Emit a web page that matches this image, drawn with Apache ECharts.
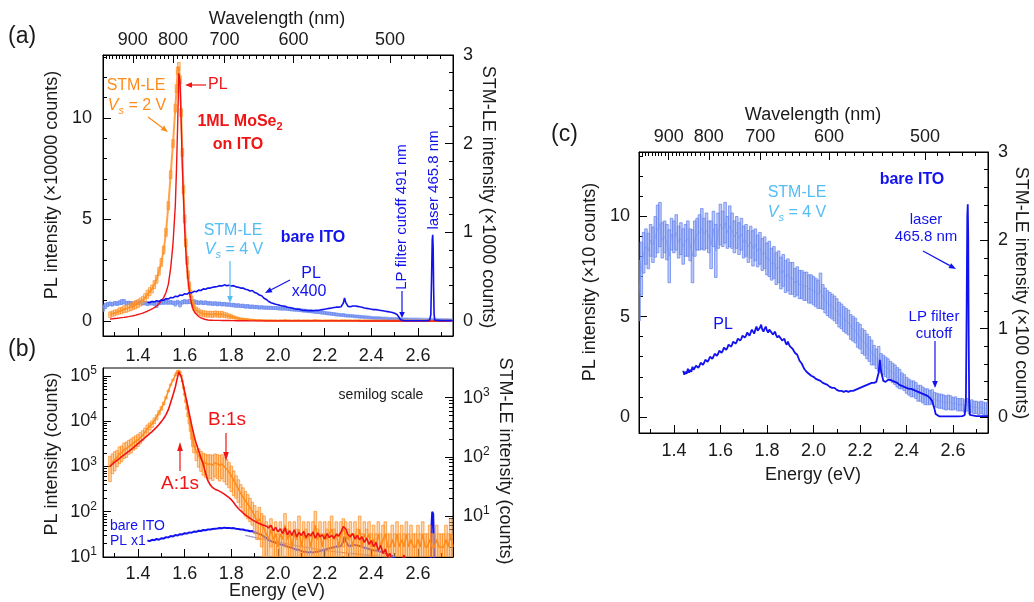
<!DOCTYPE html>
<html>
<head>
<meta charset="utf-8">
<script src="https://cdn.jsdelivr.net/npm/echarts@6/dist/echarts.min.js"></script>
<style>
  html, body { margin: 0; padding: 0; background: #fff; }
  #chart { width: 1034px; height: 602px; }
</style>
</head>
<body>
<div id="chart"></div>
<script>
// ---------- constants ----------
const HC = 1239.84;              // photon energy (eV) x wavelength (nm)
const E_MIN = 1.25, E_MAX = 2.75;
const ITO_PL_SCALE = 400;        // bare-ITO PL magnification in panel (a)
const FONT = '"Liberation Sans", Arial, Helvetica, sans-serif';

// ---------- tick labels ----------
const energyTicks = [1.4, 1.6, 1.8, 2.0, 2.2, 2.4, 2.6];
const energyMinorTicks = [1.3, 1.5, 1.7, 1.9, 2.1, 2.3, 2.5, 2.7];
const wavelengthTicks = [900, 800, 700, 600, 500];
const plTicksA = [0, 50000, 100000];
const plMinorA = [10000, 20000, 30000, 40000, 60000, 70000, 80000, 90000, 110000, 120000, 130000];
const stmTicksA = [0, 1000, 2000, 3000];
const stmMinorA = [200, 400, 600, 800, 1200, 1400, 1600, 1800, 2200, 2400, 2600, 2800];
const plTicksB = [10, 100, 1000, 10000, 100000];
const stmTicksB = [10, 100, 1000];
const plTicksC = [0, 50, 100];
const plMinorC = [10, 20, 30, 40, 60, 70, 80, 90, 110, 120, 130];
const stmTicksC = [0, 100, 200, 300];
const stmMinorC = [20, 40, 60, 80, 120, 140, 160, 180, 220, 240, 260, 280];

// ---------- data ----------
// 1ML MoSe2 on ITO, photoluminescence [energy eV, counts]
const plMoSe2 = [
  [1.28,1000],[1.29,1120],[1.30,1250],[1.31,1370],[1.32,1500],[1.33,1650],[1.34,1800],[1.35,1970],
  [1.36,2150],[1.37,2370],[1.38,2600],[1.39,2880],[1.40,3200],[1.41,3530],[1.42,3900],[1.43,4320],
  [1.44,4800],[1.45,5330],[1.46,5900],[1.47,6600],[1.48,7400],[1.49,8500],[1.50,9800],[1.51,11500],
  [1.52,14000],[1.53,18000],[1.54,26000],[1.55,38000],[1.56,57000],[1.565,75000],[1.57,97000],
  [1.575,122000],[1.58,118000],[1.585,98000],[1.59,76000],[1.595,60000],[1.60,45000],[1.605,34000],
  [1.61,26000],[1.615,19500],[1.62,14500],[1.625,11000],[1.63,8200],[1.635,6300],[1.64,4900],
  [1.645,3900],[1.65,3200],[1.66,2200],[1.67,1550],[1.68,1100],[1.69,700],[1.70,480],[1.71,390],
  [1.72,340],[1.73,315],[1.74,300],[1.75,282],[1.76,265],[1.77,245],[1.78,225],[1.79,205],[1.80,185],
  [1.81,160],[1.82,135],[1.83,118],[1.84,105],[1.85,94],[1.86,85],[1.87,78],[1.88,72],[1.89,66],
  [1.90,62],[1.91,58],[1.92,55],[1.93,52],[1.94,50],[1.95,48],[1.96,44],[1.97,50],[1.98,38],
  [1.99,45],[2.00,36],[2.01,42],[2.02,33],[2.03,44],[2.04,31],[2.05,38],[2.06,30],[2.07,40],
  [2.08,28],[2.09,35],[2.10,30],[2.11,37],[2.12,27],[2.13,33],[2.14,29],[2.15,36],[2.16,26],
  [2.17,34],[2.18,28],[2.19,31],[2.20,25],[2.21,33],[2.22,27],[2.23,30],[2.24,26],[2.25,32],
  [2.26,29],[2.27,36],[2.28,47],[2.29,42],[2.30,31],[2.31,28],[2.32,33],[2.33,25],[2.34,30],
  [2.35,24],[2.36,28],[2.37,21],[2.38,26],[2.39,19],[2.40,23],[2.41,17],[2.42,21],[2.43,14],
  [2.44,18],[2.45,12],[2.46,15],[2.47,10],[2.48,12],[2.49,8],[2.50,9],[2.52,6],[2.54,11],[2.56,5],
  [2.58,7],[2.60,4],[2.62,6],[2.64,5],[2.66,7],[2.68,5],[2.70,4],[2.72,6],[2.74,4]
];

// 1ML MoSe2 on ITO, STM-LE at Vs = 2 V [energy eV, counts, error]
const stmMoSe2 = [
  [1.28,70,32],[1.29,82,30],[1.30,90,32],[1.31,98,30],[1.32,112,35],[1.33,118,35],[1.34,132,38],
  [1.35,138,40],[1.36,150,40],[1.37,158,42],[1.38,172,42],[1.39,182,45],[1.40,195,45],[1.41,212,45],
  [1.42,232,45],[1.43,262,45],[1.44,300,45],[1.45,330,45],[1.46,360,45],[1.47,410,45],[1.48,470,45],
  [1.49,560,45],[1.50,660,45],[1.51,800,45],[1.52,1000,45],[1.53,1300,45],[1.54,1650,45],
  [1.55,2000,45],[1.56,2400,45],[1.565,2620,45],[1.57,2820,45],[1.575,2870,45],[1.58,2720,45],
  [1.585,2350,45],[1.59,1900,45],[1.595,1480,45],[1.60,1150,45],[1.605,880,45],[1.61,680,45],
  [1.615,520,45],[1.62,400,40],[1.625,310,40],[1.63,240,40],[1.635,190,40],[1.64,155,38],
  [1.65,122,35],[1.66,102,35],[1.67,90,33],[1.68,82,33],[1.69,78,33],[1.70,75,33],[1.71,76,33],
  [1.72,73,33],[1.73,79,33],[1.74,76,33],[1.75,72,33],[1.76,76,33],[1.77,68,30],[1.78,62,28],
  [1.79,55,25],[1.80,48,22],[1.81,40,18],[1.82,34,14],[1.83,29,12],[1.84,24,10],[1.85,21,9],
  [1.86,18,8],[1.87,16,7],[1.88,14,6],[1.89,12,5],[1.90,10,5],[1.91,8,4],[1.92,9,5],[1.93,7,4],
  [1.94,6,4],[1.95,5,3],[1.96,4,3],[1.97,6,3],[1.98,4,2],[1.99,5,3],[2.00,3,2],[2.01,5,3],
  [2.02,4,2],[2.03,7,4],[2.04,4,2],[2.05,5,3],[2.06,3,2],[2.07,5,3],[2.08,4,2],[2.09,6,4],
  [2.10,3,2],[2.11,5,3],[2.12,4,2],[2.13,5,3],[2.14,3,2],[2.15,5,3],[2.16,7,5],[2.17,4,2],
  [2.18,5,3],[2.19,3,2],[2.20,5,3],[2.21,4,2],[2.22,5,3],[2.23,6,4],[2.24,4,2],[2.25,5,3],
  [2.26,3,2],[2.27,5,3],[2.28,6,3],[2.29,5,3],[2.30,4,2],[2.31,5,3],[2.32,3,2],[2.33,5,3],
  [2.34,4,2],[2.35,6,4],[2.36,3,2],[2.37,5,3],[2.38,4,2],[2.39,5,3],[2.40,3,2],[2.41,4,3],
  [2.42,3,2],[2.43,5,3],[2.44,3,2],[2.45,4,3],[2.46,5,3],[2.47,3,2],[2.48,3,2],[2.49,4,3],
  [2.50,3,2],[2.51,5,3],[2.52,3,2],[2.53,4,3],[2.54,3,2],[2.55,5,3],[2.56,3,2],[2.57,4,3],
  [2.58,3,2],[2.59,3,2],[2.60,4,3],[2.61,3,2],[2.62,5,3],[2.63,3,2],[2.64,3,2],[2.65,4,3],
  [2.66,3,2],[2.67,3,2],[2.68,4,3],[2.69,3,2],[2.70,3,2],[2.71,3,2],[2.72,4,3],[2.73,3,2],
  [2.74,5,4],[2.75,3,2]
];

// bare ITO, photoluminescence incl. laser line [energy eV, counts]
const plITO = [
  [1.44,23],[1.445,21],[1.45,22.5],[1.455,21.5],[1.46,24],[1.465,22],[1.47,23.5],[1.475,22.5],[1.48,25],
  [1.485,23.5],[1.49,24],[1.495,25.5],[1.50,26],[1.505,24.5],[1.51,25.5],[1.515,27],[1.52,27.5],
  [1.525,26],[1.53,27],[1.535,28.5],[1.54,29],[1.545,27.5],[1.55,28.5],[1.555,30],[1.56,30.5],
  [1.565,29],[1.57,30],[1.575,31.5],[1.58,32],[1.585,30.5],[1.59,31.5],[1.595,33],[1.60,33.5],
  [1.605,32],[1.61,33],[1.615,34.5],[1.62,35],[1.625,33.5],[1.63,34.5],[1.635,36],[1.64,36.5],
  [1.645,35],[1.65,36],[1.655,37.5],[1.66,38],[1.665,36.5],[1.67,37.5],[1.675,39],[1.68,39.5],
  [1.685,38],[1.69,39],[1.695,40.5],[1.70,40.5],[1.705,39.5],[1.71,40.5],[1.715,42],[1.72,41.5],
  [1.725,40.5],[1.73,42],[1.735,43.5],[1.74,42.5],[1.745,41.5],[1.75,43.5],[1.755,45],[1.76,43],
  [1.765,42.5],[1.77,44.5],[1.775,46],[1.78,43.5],[1.785,42.5],[1.79,44],[1.795,45],[1.80,43],
  [1.805,42],[1.81,43.5],[1.815,44],[1.82,42],[1.825,41],[1.83,41.5],[1.835,42.5],[1.84,40.5],
  [1.845,39.5],[1.85,40.5],[1.855,41],[1.86,39],[1.865,38],[1.87,38.5],[1.875,39],[1.88,37],
  [1.885,36],[1.89,37.5],[1.895,36],[1.90,35],[1.91,34],[1.92,32],[1.93,31],[1.94,28],[1.95,26.5],
  [1.96,24],[1.97,22.5],[1.98,21.5],[1.99,20.5],[2.00,20],[2.01,19],[2.02,18.5],[2.03,18],[2.04,17],
  [2.05,16.5],[2.06,16],[2.07,15],[2.08,14.5],[2.09,14.5],[2.10,13.5],[2.11,13],[2.12,13],[2.13,12.5],
  [2.14,13],[2.15,12.5],[2.16,13],[2.17,13],[2.18,13.5],[2.19,14],[2.20,14.5],[2.21,15],[2.22,15.5],
  [2.23,16],[2.24,16.5],[2.25,17],[2.26,17],[2.27,17.5],[2.28,22],[2.285,28.5],[2.29,23],[2.30,18],
  [2.31,17.5],[2.32,18.5],[2.33,18.5],[2.34,18],[2.35,17.5],[2.36,17],[2.37,16],[2.38,15.5],[2.39,15],
  [2.40,14.5],[2.41,14],[2.42,14],[2.43,13.5],[2.44,13],[2.45,12.5],[2.46,12],[2.47,11.5],[2.48,11],
  [2.49,10.5],[2.50,9.5],[2.51,8],[2.52,4],[2.525,1.5],[2.53,0.6],[2.54,0.3],[2.56,0.3],[2.58,0.3],
  [2.60,0.3],[2.62,0.3],[2.64,0.4],[2.65,1],[2.655,8],[2.658,50],[2.661,100],[2.663,106],[2.665,90],
  [2.667,40],[2.669,8],[2.672,1],[2.68,0.4],[2.70,0.4],[2.72,0.4],[2.75,0.4]
];

// bare ITO, STM-LE at Vs = 4 V [energy eV, counts, error]
const stmITO = [
  [1.25,143,34],[1.26,168,30],[1.27,186,23],[1.28,193,20],[1.29,188,20],[1.30,200,18],[1.31,195,20],
  [1.32,204,23],[1.33,213,27],[1.34,218,25],[1.35,200,20],[1.36,204,18],[1.37,198,20],[1.38,182,30],
  [1.39,207,18],[1.40,204,18],[1.41,209,20],[1.42,198,18],[1.43,202,18],[1.44,193,20],[1.45,200,18],
  [1.46,202,20],[1.47,195,18],[1.48,182,30],[1.49,202,20],[1.50,207,18],[1.51,209,20],[1.52,213,23],
  [1.53,207,18],[1.54,211,20],[1.55,204,18],[1.56,195,27],[1.57,213,20],[1.58,188,30],[1.59,211,20],
  [1.60,218,23],[1.61,213,20],[1.62,220,23],[1.63,209,18],[1.64,216,23],[1.65,211,20],[1.66,204,18],
  [1.67,209,18],[1.68,202,18],[1.69,207,18],[1.70,198,18],[1.71,200,18],[1.72,193,18],[1.73,198,18],
  [1.74,191,20],[1.75,195,18],[1.76,188,18],[1.77,191,18],[1.78,184,18],[1.79,186,18],[1.80,179,18],
  [1.81,179,20],[1.82,173,18],[1.83,175,18],[1.84,168,18],[1.85,170,18],[1.86,163,18],[1.87,166,18],
  [1.88,159,18],[1.89,161,18],[1.90,157,18],[1.91,157,18],[1.92,152,16],[1.93,154,16],[1.94,150,16],
  [1.95,150,16],[1.96,148,16],[1.97,148,16],[1.98,145,16],[1.99,145,16],[2.00,143,16],[2.01,141,16],
  [2.02,139,16],[2.03,143,20],[2.04,136,14],[2.05,132,14],[2.06,129,14],[2.07,127,14],[2.08,125,14],
  [2.09,123,14],[2.10,120,14],[2.11,116,14],[2.12,114,14],[2.13,111,14],[2.14,109,14],[2.15,107,14],
  [2.16,102,14],[2.17,100,14],[2.18,98,14],[2.19,93,14],[2.20,91,14],[2.21,86,14],[2.22,84,14],
  [2.23,80,14],[2.24,77,14],[2.25,73,14],[2.26,70,11],[2.27,66,11],[2.28,66,14],[2.29,61,11],
  [2.30,59,11],[2.31,57,11],[2.32,55,11],[2.33,52,11],[2.34,50,11],[2.35,48,11],[2.36,45,11],
  [2.37,43,11],[2.38,41,9],[2.39,39,9],[2.40,36,9],[2.41,34,9],[2.42,32,9],[2.43,32,9],[2.44,30,9],
  [2.45,27,9],[2.46,27,9],[2.47,25,9],[2.48,23,9],[2.49,23,9],[2.50,22,8],[2.51,23,8],[2.52,20,8],
  [2.53,19,8],[2.54,18,8],[2.55,18,8],[2.56,17,8],[2.57,16,8],[2.58,17,8],[2.59,16,8],[2.60,15,7],
  [2.61,16,7],[2.62,14,7],[2.63,14,7],[2.64,14,7],[2.65,12.5,7],[2.66,14,7],[2.67,11,7],
  [2.68,12.5,7],[2.69,11,7],[2.70,11,7],[2.71,10,7],[2.72,11,7],[2.73,10,7],[2.74,9,7],[2.75,10,7]
];

// faint background trace in the semilog panel [energy eV, counts]
const itoBackground = [
  [1.86,30],[1.90,27],[1.95,24],[2.00,21.5],[2.05,19],[2.10,17],[2.15,15.5],[2.20,14],
  [2.25,13],[2.30,12.2],[2.35,11.5],[2.40,10.8],[2.45,10.2],[2.50,9.6]
];

// ---------- colours ----------
const C_RED = '#f01414';
const C_ORANGE = '#ff8c1a';
const C_BLUE = '#1212ee';
const C_LIGHT = '#6f8ff0';
const C_SKY = '#52bdf6';
const BAR_ORANGE = { fill: 'rgba(255,175,90,0.5)', stroke: 'rgba(255,135,25,0.85)' };
const BAR_LIGHT = { fill: 'rgba(140,164,246,0.6)', stroke: 'rgba(100,130,236,0.9)' };

// ---------- axes ----------
const tickLine = { color: '#000', width: 1 };
const tickFont = { fontSize: 18, color: '#1a1a1a', fontFamily: FONT };
const wlMajorE = wavelengthTicks.map(w => HC / w);
const wlMinorE = [];
for (let w = 450; w <= 990; w += 10) if (w % 100 !== 0) wlMinorE.push(HC / w);

function energyAxes(grid, margin) {
  return [
    { type: 'value', gridIndex: grid, position: 'bottom', min: E_MIN, max: E_MAX,
      axisLine: { show: true, onZero: false, lineStyle: tickLine },
      axisTick: { show: true, inside: true, length: 8, customValues: energyTicks, lineStyle: tickLine },
      axisLabel: Object.assign({ show: true, customValues: energyTicks, margin, formatter: v => v.toFixed(1) }, tickFont),
      splitLine: { show: false } },
    { type: 'value', gridIndex: grid, position: 'bottom', min: E_MIN, max: E_MAX,
      axisLine: { show: false, onZero: false },
      axisTick: { show: true, inside: true, length: 4, customValues: energyMinorTicks, lineStyle: tickLine },
      axisLabel: { show: false }, splitLine: { show: false } }
  ];
}
function wavelengthAxes(grid) {
  return [
    { type: 'value', gridIndex: grid, position: 'top', min: E_MIN, max: E_MAX,
      axisLine: { show: true, onZero: false, lineStyle: tickLine },
      axisTick: { show: true, inside: true, length: 8, customValues: wlMajorE, lineStyle: tickLine },
      axisLabel: Object.assign({ show: true, customValues: wlMajorE, margin: 6, formatter: v => String(Math.round(HC / v)) }, tickFont),
      splitLine: { show: false } },
    { type: 'value', gridIndex: grid, position: 'top', min: E_MIN, max: E_MAX,
      axisLine: { show: false, onZero: false },
      axisTick: { show: true, inside: true, length: 4, customValues: wlMinorE, lineStyle: tickLine },
      axisLabel: { show: false }, splitLine: { show: false } }
  ];
}
function yAxes(grid, position, type, min, max, major, minor, fmt, margin, rich) {
  const label = Object.assign({ show: true, customValues: major, margin, formatter: fmt }, tickFont);
  if (rich) label.rich = rich;
  return [
    { type, gridIndex: grid, position, min, max,
      axisLine: { show: true, onZero: false, lineStyle: tickLine },
      axisTick: { show: true, inside: true, length: 8, customValues: major, lineStyle: tickLine },
      axisLabel: label, splitLine: { show: false } },
    { type, gridIndex: grid, position, min, max,
      axisLine: { show: false, onZero: false },
      axisTick: { show: true, inside: true, length: 4, customValues: minor, lineStyle: tickLine },
      axisLabel: { show: false }, splitLine: { show: false } }
  ];
}
const logMinor = (lo, hi) => {
  const out = [];
  for (let d = lo; d < hi; d *= 10) for (let k = 2; k <= 9; k++) out.push(k * d);
  return out;
};
const powRich = {
  b: { fontSize: 18, lineHeight: 22, color: '#1a1a1a', fontFamily: FONT },
  s: { fontSize: 12, lineHeight: 12, verticalAlign: 'top', color: '#1a1a1a', fontFamily: FONT }
};
const powFmt = v => '{b|10}{s|' + Math.round(Math.log10(v)) + '}';

const xAxis = [].concat(
  energyAxes(0, 11), wavelengthAxes(0),       // 0..3
  energyAxes(1, 8),                           // 4, 5
  energyAxes(2, 9), wavelengthAxes(2)         // 6..9
);
const yAxis = [].concat(
  yAxes(0, 'left', 'value', -7400, 131000, plTicksA, plMinorA, v => String(Math.round(v / 10000)), 11),   // 0,1
  yAxes(0, 'right', 'value', -170, 3000, stmTicksA, stmMinorA, v => String(Math.round(v / 1000)), 10),     // 2,3
  yAxes(1, 'left', 'log', 10, 150000, plTicksB, logMinor(10, 100000), powFmt, 6, powRich),               // 4,5
  yAxes(1, 'right', 'log', 2.03, 3180, stmTicksB, logMinor(1, 1000).filter(v => v > 2.03 && v < 3180), powFmt, 10, powRich), // 6,7
  yAxes(2, 'left', 'value', -8, 132, plTicksC, plMinorC, v => String(Math.round(v / 10)), 9),              // 8,9
  yAxes(2, 'right', 'value', -18, 300, stmTicksC, stmMinorC, v => String(Math.round(v / 100)), 10)         // 10,11
);

// ---------- series helpers ----------
function lineSeries(data, xi, yi, color, width, z, opacity) {
  return { type: 'line', data, xAxisIndex: xi, yAxisIndex: yi, showSymbol: false, symbol: 'none',
           lineStyle: { color, width, opacity: opacity == null ? 1 : opacity }, z, clip: true, silent: true };
}
// error bars drawn as narrow boxes; neighbouring boxes overlap into a mesh
function errorBarSeries(data, xi, yi, look, isLog, z) {
  const w = 2.6;
  return {
    type: 'custom', data, xAxisIndex: xi, yAxisIndex: yi, z, clip: true, silent: true,
    renderItem(params, api) {
      const x = api.value(0), v = api.value(1), e = api.value(2);
      let lowV = v - e;
      if (isLog && lowV <= 0) lowV = 0.5;
      const hi = api.coord([x, v + e]);
      const lo = api.coord([x, lowV]);
      return { type: 'rect',
        shape: { x: hi[0] - w / 2, y: hi[1], width: w, height: Math.max(lo[1] - hi[1], 1) },
        style: { fill: look.fill, stroke: look.stroke, lineWidth: 0.8 } };
    }
  };
}
const plITOx400 = plITO.map(p => [p[0], p[1] * ITO_PL_SCALE]);
const centre = d => d.map(p => [p[0], p[1]]);

const series = [
  // (a) linear panel
  errorBarSeries(stmITO, 0, 2, BAR_LIGHT, false, 2),
  lineSeries(centre(stmITO), 0, 2, C_LIGHT, 4, 3, 0.55),
  errorBarSeries(stmMoSe2, 0, 2, BAR_ORANGE, false, 4),
  lineSeries(centre(stmMoSe2), 0, 2, C_ORANGE, 2, 5, 0.8),
  lineSeries(plMoSe2, 0, 0, C_RED, 1.4, 6),
  lineSeries(plITOx400, 0, 0, C_BLUE, 1.6, 7),
  // (b) semilog panel
  lineSeries(itoBackground, 4, 4, '#8a84b8', 1.3, 2, 0.8),
  lineSeries(plITO, 4, 4, C_BLUE, 2, 3),
  errorBarSeries(stmMoSe2, 4, 6, BAR_ORANGE, true, 4),
  lineSeries(centre(stmMoSe2), 4, 6, C_ORANGE, 1.5, 5),
  lineSeries(plMoSe2, 4, 4, C_RED, 1.6, 6),
  // (c) bare ITO
  errorBarSeries(stmITO, 6, 10, BAR_LIGHT, false, 2),
  lineSeries(centre(stmITO), 6, 10, C_LIGHT, 1, 3, 0.5),
  lineSeries(plITO, 6, 8, C_BLUE, 1.8, 5)
];

// ---------- text and arrows ----------
function txt(x, y, text, o) {
  o = o || {};
  const style = {
    text, fill: o.color || '#1a1a1a', fontSize: o.size || 18, fontFamily: FONT,
    fontWeight: o.weight || 'normal', align: o.align || 'center', verticalAlign: 'middle'
  };
  if (o.rich) style.rich = o.rich;
  return { type: 'text', x, y, rotation: o.rot || 0, style, silent: true, z: 50 };
}
function arrow(x1, y1, x2, y2, color, head) {
  head = head || 7;
  const a = Math.atan2(y2 - y1, x2 - x1);
  const hx = x2 - head * Math.cos(a), hy = y2 - head * Math.sin(a);
  const px = -Math.sin(a) * 2.8, py = Math.cos(a) * 2.8;
  return [
    { type: 'line', shape: { x1, y1, x2: hx, y2: hy }, style: { stroke: color, lineWidth: 1.2 }, silent: true, z: 50 },
    { type: 'polygon', shape: { points: [[x2, y2], [hx + px, hy + py], [hx - px, hy - py]] }, style: { fill: color }, silent: true, z: 50 }
  ];
}
function vsRich(color) {
  return {
    i: { fontStyle: 'italic', fontSize: 16, lineHeight: 20, fill: color, fontFamily: FONT },
    s: { fontStyle: 'italic', fontSize: 11, lineHeight: 12, verticalAlign: 'bottom', fill: color, fontFamily: FONT },
    t: { fontSize: 16, lineHeight: 20, fill: color, fontFamily: FONT }
  };
}
const moRich = {
  t: { fontSize: 16, fontWeight: 'bold', lineHeight: 20, fill: C_RED, fontFamily: FONT },
  s: { fontSize: 11, fontWeight: 'bold', lineHeight: 12, verticalAlign: 'bottom', fill: C_RED, fontFamily: FONT }
};

const graphics = [].concat(
  // panel (a)
  txt(8, 37, '(a)', { size: 23, align: 'left' }),
  txt(277, 19, 'Wavelength (nm)'),
  txt(52, 185, 'PL intensity (\u00d710000 counts)', { rot: Math.PI / 2 }),
  txt(488, 197, 'STM-LE intensity (\u00d71000 counts)', { rot: -Math.PI / 2 }),
  txt(136, 86, 'STM-LE', { size: 16, color: C_ORANGE }),
  txt(137, 106, '{i|V}{s|s}{t| = 2 V}', { size: 16, color: C_ORANGE, rich: vsRich(C_ORANGE) }),
  arrow(148, 117, 168, 132, C_ORANGE),
  txt(208, 85, 'PL', { size: 16, color: C_RED, align: 'left' }),
  arrow(206, 85, 185, 85, C_RED),
  txt(240, 122, '{t|1ML MoSe}{s|2}', { size: 16, color: C_RED, weight: 'bold', rich: moRich }),
  txt(238, 145, 'on ITO', { size: 16, color: C_RED, weight: 'bold' }),
  txt(233, 231, 'STM-LE', { size: 16, color: C_SKY }),
  txt(234, 250, '{i|V}{s|s}{t| = 4 V}', { size: 16, color: C_SKY, rich: vsRich(C_SKY) }),
  arrow(230, 261, 230, 303, C_SKY),
  txt(313, 238, 'bare ITO', { size: 16, color: C_BLUE, weight: 'bold' }),
  txt(311, 274, 'PL', { size: 16, color: C_BLUE }),
  txt(309, 292, 'x400', { size: 16, color: C_BLUE }),
  arrow(290, 280, 265, 293, C_BLUE),
  txt(402, 217, 'LP filter cutoff 491 nm', { size: 15, color: C_BLUE, rot: Math.PI / 2 }),
  arrow(402, 291, 402, 318, C_BLUE, 6),
  txt(434, 180, 'laser 465.8 nm', { size: 15, color: C_BLUE, rot: Math.PI / 2 }),
  // panel (b)
  txt(8, 350, '(b)', { size: 23, align: 'left' }),
  txt(381, 395, 'semilog scale', { size: 14 }),
  txt(52, 454, 'PL intensity (counts)', { rot: Math.PI / 2 }),
  txt(505, 461, 'STM-LE intensity (counts)', { rot: -Math.PI / 2 }),
  txt(277, 591, 'Energy (eV)'),
  txt(227, 420, 'B:1s', { size: 19, color: C_RED }),
  arrow(226, 433, 226, 461, C_RED, 9),
  txt(180, 484, 'A:1s', { size: 19, color: C_RED }),
  arrow(180, 471, 180, 442, C_RED, 9),
  txt(110, 526, 'bare ITO', { size: 14, color: C_BLUE, align: 'left' }),
  txt(110, 541, 'PL x1', { size: 14, color: C_BLUE, align: 'left' }),
  // panel (c)
  txt(551, 135, '(c)', { size: 23, align: 'left' }),
  txt(813, 115, 'Wavelength (nm)'),
  txt(590, 282, 'PL intensity (\u00d710 counts)', { rot: Math.PI / 2 }),
  txt(1021, 293, 'STM-LE intensity (\u00d7100 counts)', { rot: -Math.PI / 2 }),
  txt(813, 475, 'Energy (eV)'),
  txt(912, 180, 'bare ITO', { size: 16, color: C_BLUE, weight: 'bold' }),
  txt(797, 193, 'STM-LE', { size: 16, color: C_SKY }),
  txt(797, 213, '{i|V}{s|s}{t| = 4 V}', { size: 16, color: C_SKY, rich: vsRich(C_SKY) }),
  txt(926, 220, 'laser', { size: 15, color: C_BLUE }),
  txt(926, 237, '465.8 nm', { size: 15, color: C_BLUE }),
  arrow(923, 251, 956, 269, C_BLUE),
  txt(934, 317, 'LP filter', { size: 15, color: C_BLUE }),
  txt(934, 334, 'cutoff', { size: 15, color: C_BLUE }),
  arrow(935, 341, 935, 388, C_BLUE),
  txt(723, 325, 'PL', { size: 16, color: C_BLUE })
);

const frame = { show: true, borderColor: '#000', borderWidth: 1, backgroundColor: 'transparent' };
const option = {
  animation: false,
  backgroundColor: '#fff',
  textStyle: { fontFamily: FONT },
  grid: [
    Object.assign({ left: 103, top: 55, width: 350, height: 281 }, frame),
    Object.assign({ left: 103, top: 368, width: 350, height: 189 }, frame),
    Object.assign({ left: 639, top: 152, width: 349, height: 281 }, frame)
  ],
  xAxis, yAxis, series,
  graphic: { elements: graphics }
};

const chart = echarts.init(document.getElementById('chart'), null, { renderer: 'canvas', width: 1034, height: 602 });
chart.setOption(option);
</script>
</body>
</html>
